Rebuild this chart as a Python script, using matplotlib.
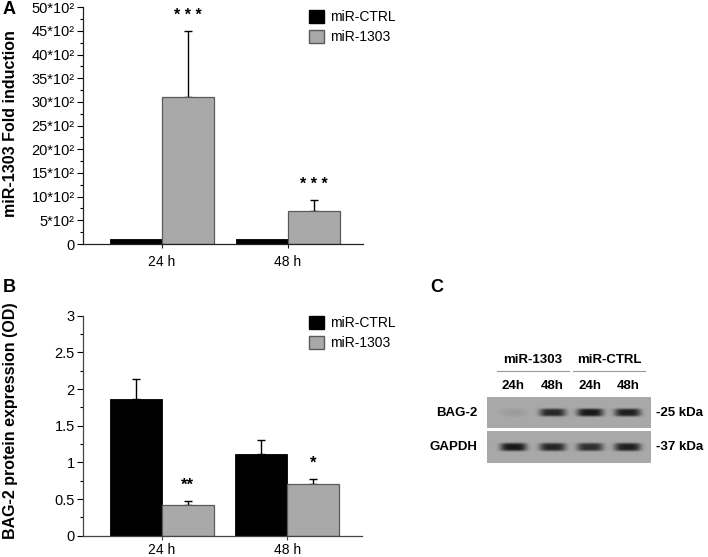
import numpy as np
import matplotlib
matplotlib.use("Agg")
import matplotlib.pyplot as plt
from matplotlib.patches import Patch

plt.rcParams['font.family'] = ['Liberation Sans', 'DejaVu Sans']

# ---- data ----
times = ['24 h', '48 h']
series = ['miR-CTRL', 'miR-1303']

# panel A: fold induction
a_ctrl = [100, 100]
a_mir = [3100, 690]
a_mir_err = [1400, 230]
a_stars = ['* * *', '* * *']

# panel B: BAG-2 OD
b_ctrl = [1.87, 1.12]
b_ctrl_err = [0.27, 0.18]
b_mir = [0.42, 0.70]
b_mir_err = [0.05, 0.07]
b_stars = ['**', '*']

# panel C: western blot
blot_groups = ['miR-1303', 'miR-CTRL']
blot_lanes = ['24h', '48h', '24h', '48h']
blot_rows = ['BAG-2', 'GAPDH']
blot_sizes = ['-25 kDa', '-37 kDa']
bag2_band = [0.08, 0.85, 0.95, 0.9]
gapdh_band = [0.95, 0.85, 0.8, 0.9]

W, H = 708, 557
fig = plt.figure(figsize=(W / 100, H / 100), dpi=100)


def fax(x0, y0, x1, y1):
    # pixel box (top-left origin) -> axes
    return fig.add_axes([x0 / W, 1 - y1 / H, (x1 - x0) / W, (y1 - y0) / H])


black = '#000000'
grey = '#a9a9a9'
grey_edge = '#5a5a5a'
bw = 0.413
x = np.arange(len(times))


def bar_panel(ax, ctrl, mir, ctrl_err, mir_err, spine_col, xpad):
    ax.bar(x - bw / 2, ctrl, bw, color=black, edgecolor=black, linewidth=0.6, zorder=2)
    ax.bar(x + bw / 2, mir, bw, color=grey, edgecolor=grey_edge, linewidth=0.9, zorder=2)
    if ctrl_err is not None:
        ax.errorbar(x - bw / 2, ctrl, yerr=[np.zeros(len(x)), ctrl_err], fmt='none',
                    ecolor=black, elinewidth=1, capsize=3, capthick=1, zorder=1)
    ax.errorbar(x + bw / 2, mir, yerr=[np.zeros(len(x)), mir_err], fmt='none',
                ecolor=black, elinewidth=1, capsize=3, capthick=1, zorder=1)
    ax.set_xlim(-0.627, 1.595)
    ax.set_xticks(x)
    ax.set_xticklabels(times, fontsize=10)
    ax.tick_params(axis='x', length=3, width=0.8, pad=xpad, color=spine_col)
    ax.tick_params(axis='y', which='major', length=4, width=0.8, labelsize=10.5, pad=2)
    ax.tick_params(axis='y', which='minor', length=2, width=0.8)
    for s in ['top', 'right']:
        ax.spines[s].set_visible(False)
    ax.spines['left'].set_color(spine_col)
    ax.spines['bottom'].set_color(spine_col)
    ax.spines['left'].set_linewidth(0.9)
    ax.spines['bottom'].set_linewidth(0.9)


def add_legend(ax, ytop):
    ax.legend(handles=[Patch(facecolor=black, edgecolor=black),
                       Patch(facecolor=grey, edgecolor=grey_edge)],
              labels=series, loc='upper left', bbox_to_anchor=(309 / W, 1 - ytop / H),
              bbox_transform=fig.transFigure, frameon=False, fontsize=10,
              handlelength=1.05, handleheight=1.05, handletextpad=0.5, labelspacing=0.42,
              borderpad=0, borderaxespad=0)


# ---- panel A ----
axA = fax(83, 7.3, 363, 244)
bar_panel(axA, a_ctrl, a_mir, None, a_mir_err, '#222222', 5)
axA.set_ylim(0, 5000)
yt = np.arange(0, 5001, 500)
axA.set_yticks(yt)
axA.set_yticklabels(['0'] + [f'{v // 100}*10\u00b2' for v in yt[1:]])
axA.set_yticks(np.arange(250, 5000, 500), minor=True)
for i, s in enumerate(a_stars):
    top = a_mir[i] + a_mir_err[i]
    axA.text(x[i] + bw / 2, top + 330, s, ha='center', va='center', fontsize=11.5, fontweight='bold')
add_legend(axA, 10)
fig.text(11 / W, 1 - 124 / H, 'miR-1303 Fold induction', rotation=90, ha='center', va='center',
         fontsize=11.5, fontweight='bold')
fig.text(3 / W, 1 - 10 / H, 'A', ha='left', va='center', fontsize=13, fontweight='bold')

# ---- panel B ----
axB = fax(83, 315.7, 362, 535.7)
bar_panel(axB, b_ctrl, b_mir, b_ctrl_err, b_mir_err, '#444444', 2.5)
axB.set_ylim(0, 3)
axB.set_yticks(np.arange(0, 3.01, 0.5))
axB.set_yticklabels(['0', '0.5', '1', '1.5', '2', '2.5', '3'])
axB.set_yticks(np.arange(0.25, 3, 0.5), minor=True)
for i, s in enumerate(b_stars):
    top = b_mir[i] + b_mir_err[i]
    axB.text(x[i] + bw / 2, top + 0.22, s, ha='center', va='center', fontsize=12, fontweight='bold')
add_legend(axB, 316)
fig.text(11 / W, 1 - 421 / H, 'BAG-2 protein expression (OD)', rotation=90, ha='center',
         va='center', fontsize=11.5, fontweight='bold')
fig.text(3 / W, 1 - 288 / H, 'B', ha='left', va='center', fontsize=13, fontweight='bold')

# ---- panel C: blot ----
fig.text(437 / W, 1 - 287 / H, 'C', ha='center', va='center', fontsize=13, fontweight='bold')
lane_pos = np.array([0.16, 0.40, 0.63, 0.86])


def blot_image(intens, ny=32, nx=164):
    xx = np.linspace(0, 1, nx)[None, :]
    yy = np.linspace(0, 1, ny)[:, None]
    img = np.full((ny, nx), 0.66)
    for c, a in zip(lane_pos, intens):
        prof = np.exp(-((xx - c) / 0.08) ** 4) * np.exp(-((yy - 0.5) / 0.13) ** 4)
        img -= a * 0.6 * prof
    return np.clip(img, 0, 1)


band_rows = [bag2_band, gapdh_band]
row_px = [(397, 428), (431, 463)]
for r, (y0, y1) in enumerate(row_px):
    axC = fax(487, y0, 651, y1)
    axC.imshow(blot_image(band_rows[r], ny=y1 - y0), cmap='gray', vmin=0, vmax=1,
               aspect='auto', interpolation='bilinear')
    axC.set_xticks([])
    axC.set_yticks([])
    for s in axC.spines.values():
        s.set_visible(False)
    yc = 1 - (y0 + y1) / 2 / H
    fig.text(477 / W, yc, blot_rows[r], ha='right', va='center', fontsize=9.5, fontweight='bold')
    fig.text(656 / W, yc, blot_sizes[r], ha='left', va='center', fontsize=9.5, fontweight='bold')

blot_left, blot_w = 487, 164
lane_px = blot_left + lane_pos * blot_w
for g, name in enumerate(blot_groups):
    cx = lane_px[2 * g:2 * g + 2].mean()
    fig.text(cx / W, 1 - 360 / H, name, ha='center', va='center', fontsize=9.5, fontweight='bold')
    fig.add_artist(plt.Line2D([(cx - 36) / W, (cx + 36) / W], [1 - 371 / H, 1 - 371 / H],
                              color='#999999', linewidth=0.8))
for i, lab in enumerate(blot_lanes):
    fig.text(lane_px[i] / W, 1 - 386 / H, lab, ha='center', va='center', fontsize=9.5, fontweight='bold')

fig.savefig('out.png', dpi=100)
